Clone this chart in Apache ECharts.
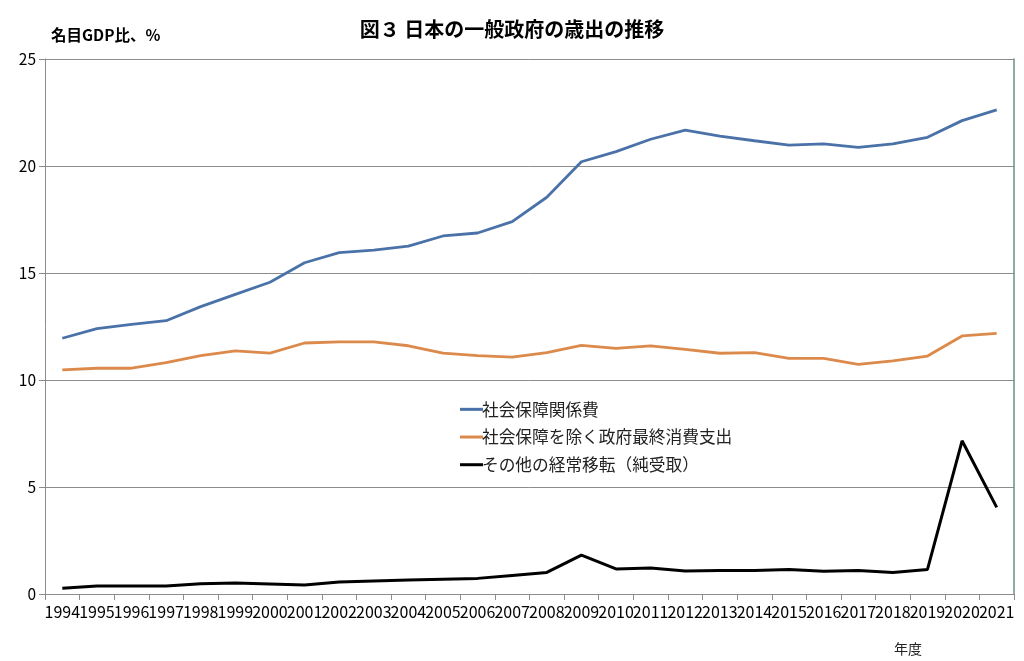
<!DOCTYPE html>
<html lang="ja">
<head>
    <meta charset="UTF-8">
    <title>図３ 日本の一般政府の歳出の推移</title>
    <script src="https://cdn.jsdelivr.net/npm/echarts@6/dist/echarts.min.js"></script>
    <style>
      *{margin:0;padding:0}
      html,body{width:100%;height:100%;background:#fff}
      #main{width:1024px;height:661px}
    </style>
</head>
<body>
<div id="main"></div>
<script>
    var chart = echarts.init(document.getElementById("main"));

    // 年度
    var years = ['1994','1995','1996','1997','1998','1999','2000','2001','2002','2003',
                 '2004','2005','2006','2007','2008','2009','2010','2011','2012','2013',
                 '2014','2015','2016','2017','2018','2019','2020','2021'];
    // 社会保障関係費
    var socialSecurity = [11.95,12.4,12.6,12.77,13.43,14.0,14.57,15.48,15.95,16.07,
                          16.26,16.73,16.87,17.4,18.54,20.2,20.67,21.25,21.68,21.4,
                          21.18,20.98,21.03,20.87,21.03,21.34,22.12,22.62];
    // 社会保障を除く政府最終消費支出
    var govConsumption = [10.47,10.55,10.55,10.81,11.14,11.36,11.26,11.73,11.78,11.78,
                          11.6,11.26,11.14,11.07,11.28,11.62,11.48,11.59,11.43,11.25,
                          11.28,11.01,11.01,10.73,10.89,11.12,12.06,12.18];
    // その他の経常移転（純受取）
    var otherTransfers = [0.27,0.37,0.37,0.37,0.48,0.51,0.47,0.42,0.56,0.61,
                          0.65,0.69,0.73,0.87,1.01,1.82,1.17,1.21,1.07,1.1,
                          1.1,1.15,1.06,1.1,1.01,1.15,7.16,4.05];
    var yTicks = [0, 5, 10, 15, 20, 25];

    var font = '"Noto Sans CJK JP", "Noto Sans", sans-serif';
    var gridColor = '#8c8c8c';

    var option = {
        backgroundColor: '#fff',
        textStyle: {fontFamily: font},
        title: [{
            text: '図３ 日本の一般政府の歳出の推移',
            left: 'center',
            top: 14,
            textStyle: {fontSize: 20, fontWeight: 'bold', color: '#000', fontFamily: font}
        }, {
            text: '名目GDP比、%',
            left: 46,
            top: 22,
            textStyle: {fontSize: 15.5, fontWeight: 'bold', color: '#000', fontFamily: font}
        }, {
            text: '年度',
            left: 889,
            top: 637,
            textStyle: {fontSize: 14, fontWeight: 'normal', color: '#222', fontFamily: font}
        }],
        legend: {
            orient: 'vertical',
            left: 455,
            top: 396,
            itemWidth: 23,
            itemHeight: 3,
            itemGap: 11,
            icon: 'rect',
            textStyle: {fontSize: 16.7, color: '#222', fontFamily: font, padding: [0, 0, 0, -6]},
            data: ['社会保障関係費', '社会保障を除く政府最終消費支出', 'その他の経常移転（純受取）']
        },
        grid: {left: 45, right: 10, top: 59, bottom: 67},
        xAxis: {
            type: 'category',
            data: years,
            boundaryGap: true,
            axisLine: {lineStyle: {color: gridColor, width: 1}},
            axisTick: {show: true, interval: 0, length: 6, lineStyle: {color: gridColor}},
            axisLabel: {interval: 0, color: '#000', fontSize: 16, margin: 10, hideOverlap: false, fontFamily: font}
        },
        yAxis: [{
            type: 'value',
            min: yTicks[0],
            max: yTicks[yTicks.length - 1],
            interval: 5,
            axisLine: {show: true, lineStyle: {color: gridColor}},
            axisTick: {show: true, length: 6, lineStyle: {color: gridColor}},
            axisLabel: {color: '#000', fontSize: 15.5, margin: 9, fontFamily: font},
            splitLine: {show: true, lineStyle: {color: gridColor, width: 1}}
        }, {
            type: 'value',
            position: 'right',
            min: yTicks[0],
            max: yTicks[yTicks.length - 1],
            interval: 5,
            axisLine: {show: true, lineStyle: {color: '#6e8c88', width: 1.5}},
            axisTick: {show: false},
            axisLabel: {show: false},
            splitLine: {show: false}
        }],
        series: [{
            name: '社会保障関係費',
            type: 'line',
            data: socialSecurity,
            symbol: 'none',
            itemStyle: {color: '#4a72a8'},
            lineStyle: {color: '#4a72a8', width: 2.8}
        }, {
            name: '社会保障を除く政府最終消費支出',
            type: 'line',
            data: govConsumption,
            symbol: 'none',
            itemStyle: {color: '#dc8a4c'},
            lineStyle: {color: '#dc8a4c', width: 2.8}
        }, {
            name: 'その他の経常移転（純受取）',
            type: 'line',
            data: otherTransfers,
            symbol: 'none',
            itemStyle: {color: '#000'},
            lineStyle: {color: '#000', width: 3}
        }]
    };
    chart.setOption(option);
</script>
</body>
</html>
